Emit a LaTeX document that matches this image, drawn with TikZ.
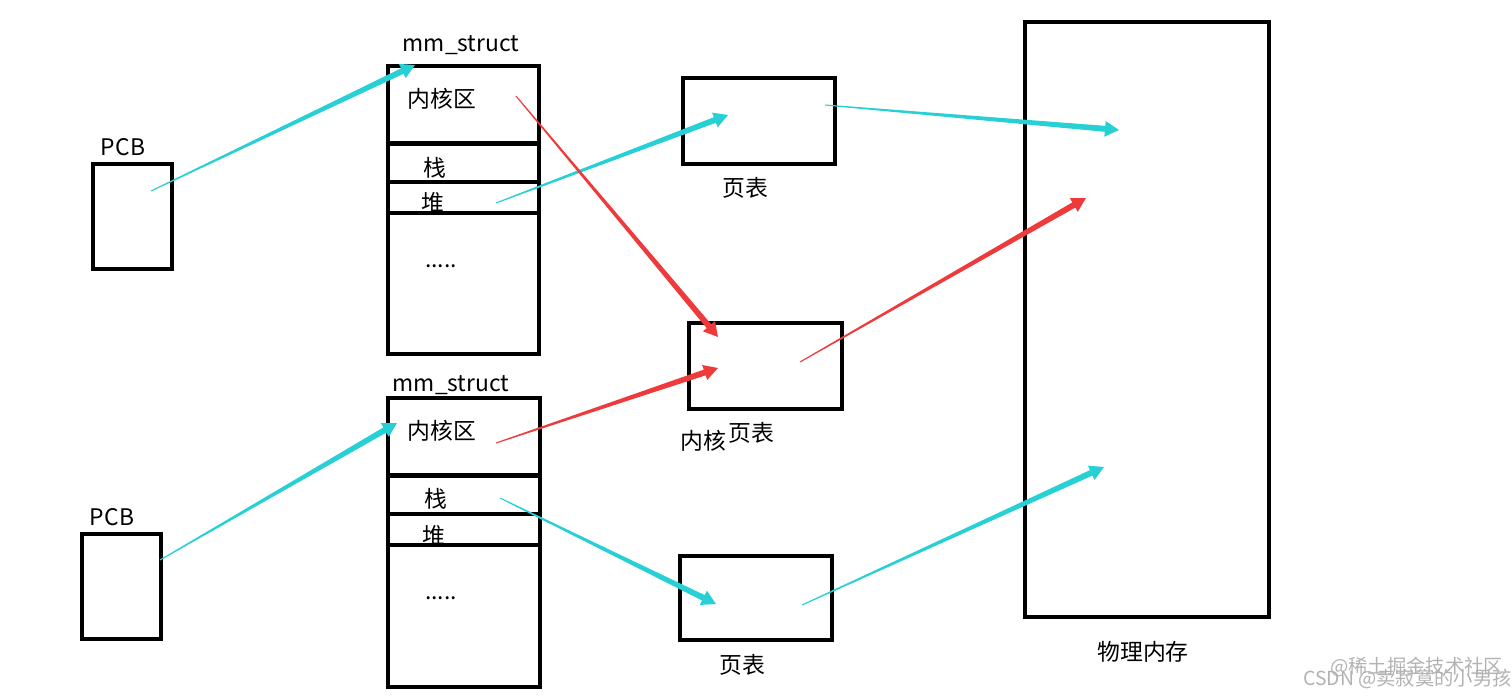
\documentclass[tikz,border=0pt]{standalone}
\usepackage{fontspec}
\setmainfont{Noto Sans CJK SC}
\usetikzlibrary{calc,arrows.meta}
\definecolor{cy}{RGB}{38,208,212}
\definecolor{rd}{RGB}{238,58,58}
\tikzset{x=0.02cm,y=-0.02cm,
 box/.style={draw=black,line width=2.4pt},
 lbl/.style={font=\fontsize{13}{13}\selectfont,inner sep=0pt},
 wm/.style={font=\fontsize{11}{11}\selectfont,text=gray!60,inner sep=0pt}}
\newcommand\tarrow[3]{%
 \path (#1) coordinate (ta) (#2) coordinate (tb);
 \path ($(tb)!8pt!(ta)$) coordinate (te);
 \fill[#3] ($(ta)!0.3pt!90:(tb)$) -- ($(te)!1.7pt!-90:(ta)$) -- ($(te)!4.5pt!-90:(ta)$) -- (tb)
   -- ($(te)!4.5pt!90:(ta)$) -- ($(te)!1.7pt!90:(ta)$) -- ($(ta)!0.3pt!-90:(tb)$) -- cycle;}
\begin{document}
\begin{tikzpicture}
\useasboundingbox (0,0) rectangle (1512,697);
% PCBs
\draw[box] (93,164) rectangle (172,269); \node[lbl] at (123,147) {PCB};
\draw[box] (82,534) rectangle (161,639); \node[lbl] at (112,517) {PCB};
% mm_struct 1
\node[lbl] at (461,45) {mm\_struct};
\draw[box] (388,66) rectangle (539,354);
\draw[box] (388,143.5)--(539,143.5); \draw[box] (388,182)--(539,182); \draw[box] (388,213)--(539,213);
\node[lbl] at (442,99) {内核区}; \node[lbl] at (435,168) {栈}; \node[lbl] at (433,203) {堆}; \node[lbl] at (441,266) {.....};
% mm_struct 2
\node[lbl] at (451,385) {mm\_struct};
\draw[box] (388,398) rectangle (540,687);
\draw[box] (388,475.5)--(540,475.5); \draw[box] (388,514)--(540,514); \draw[box] (388,545)--(540,545);
\node[lbl] at (442,431) {内核区}; \node[lbl] at (436,499) {栈}; \node[lbl] at (434,536) {堆}; \node[lbl] at (441,598) {.....};
% page tables
\draw[box] (683,78) rectangle (835,164); \node[lbl] at (745,188) {页表};
\draw[box] (689,323) rectangle (842,409); \node[lbl] at (703,441) {内核}; \node[lbl] at (751,433) {页表};
\draw[box] (680,556) rectangle (832,640); \node[lbl] at (742,665) {页表};
% physical memory
\draw[box] (1025,22) rectangle (1269,617); \node[lbl] at (1143,652) {物理内存};
% coordinates
\coordinate (p1) at (151,191); \coordinate (m1) at (415,65);
\coordinate (p2) at (160,560); \coordinate (m2) at (397,423);
\coordinate (h1) at (496,203); \coordinate (t1) at (728,115);
\coordinate (k1) at (516,96); \coordinate (kt) at (718,337);
\coordinate (k2) at (496,443); \coordinate (kt2) at (718,368);
\coordinate (s2) at (500,498); \coordinate (t3) at (716,604);
\coordinate (t1o) at (825,105); \coordinate (pm1) at (1119,130);
\coordinate (kto) at (800,362); \coordinate (pm2) at (1086,198);
\coordinate (t3o) at (802,605); \coordinate (pm3) at (1104,467);
\tarrow{p1}{m1}{cy} \tarrow{p2}{m2}{cy} \tarrow{h1}{t1}{cy}
\tarrow{k1}{kt}{rd} \tarrow{k2}{kt2}{rd} \tarrow{s2}{t3}{cy}
\tarrow{t1o}{pm1}{cy} \tarrow{kto}{pm2}{rd} \tarrow{t3o}{pm3}{cy}
% watermark
\node[wm,anchor=west] at (1330,667) {@稀土掘金技术社区};
\node[wm,anchor=west] at (1303,679) {CSDN @卖寂寞的小男孩};
\end{tikzpicture}
\end{document}
